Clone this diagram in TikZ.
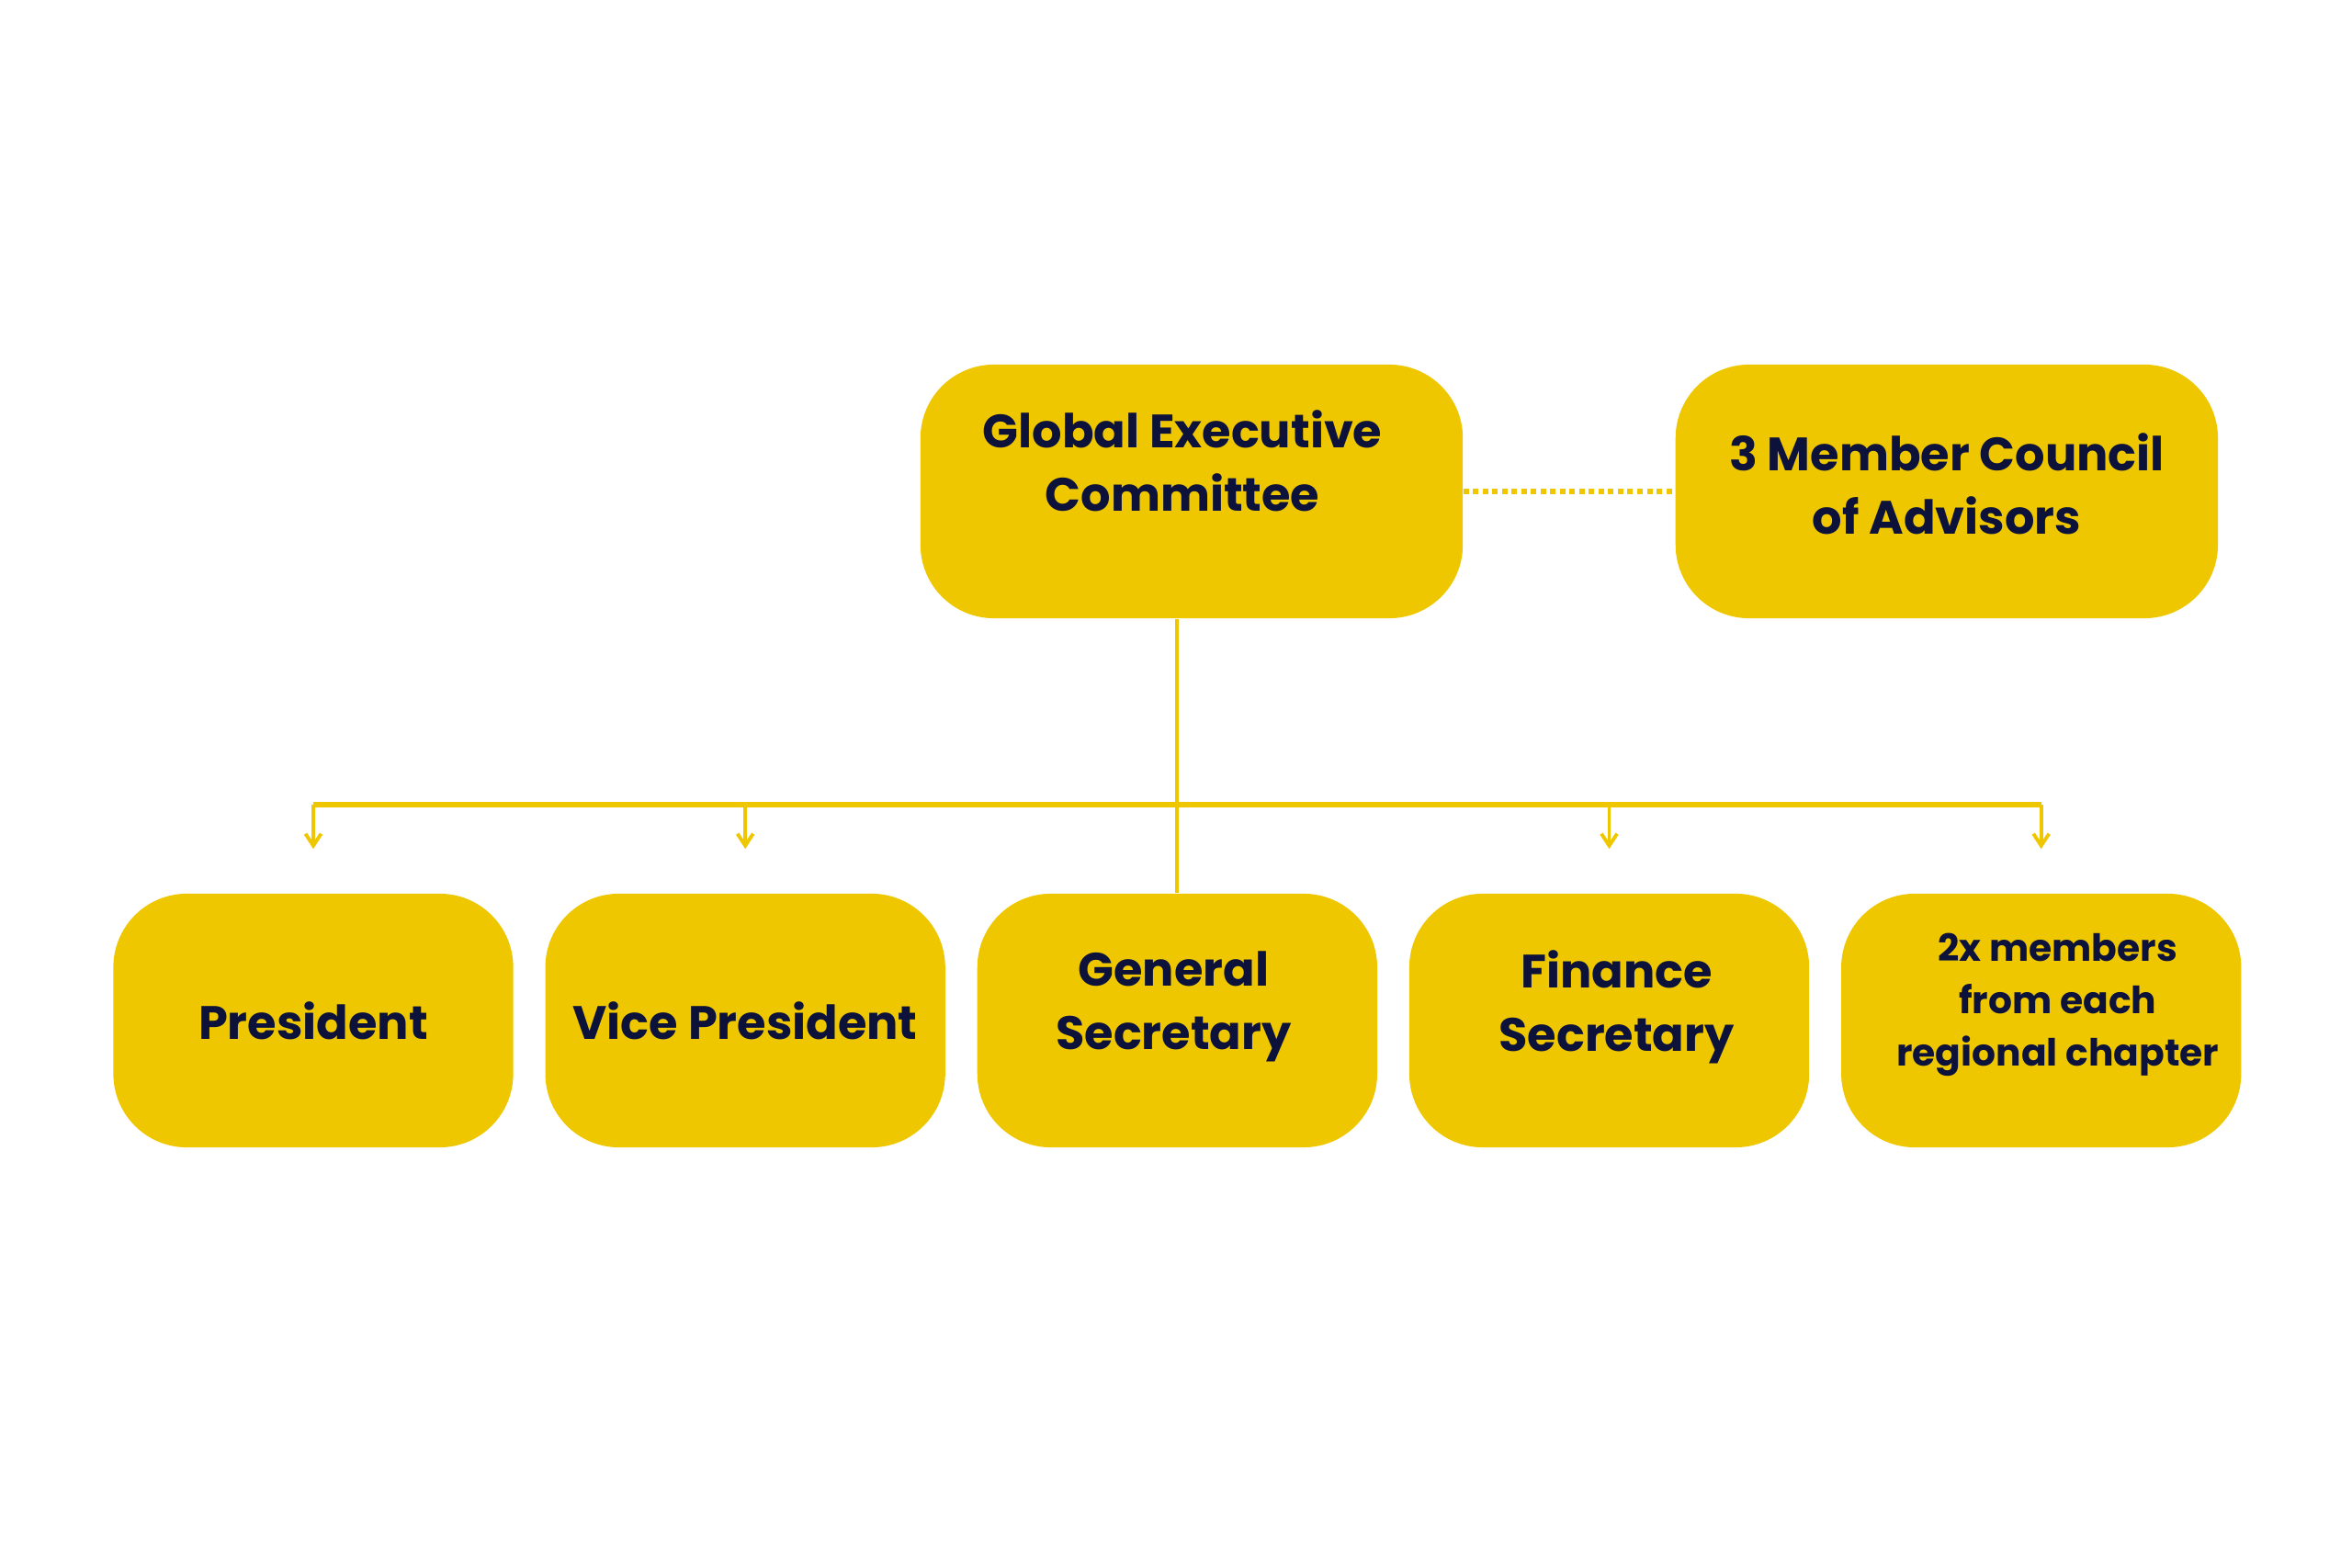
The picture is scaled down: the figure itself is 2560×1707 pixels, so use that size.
\documentclass[tikz,border=0pt]{standalone}
\usepackage{fontspec}
\setmainfont{Poppins}
\usepackage{xcolor}
\usetikzlibrary{positioning,calc,arrows.meta}

\definecolor{boxyellow}{HTML}{EFC700}
\definecolor{inkblue}{HTML}{0C1239}

\tikzset{
	rolebox/.style={fill=boxyellow, rounded corners=0.8cm, minimum width=4.35cm, minimum height=2.76cm, inner sep=0pt},
	headbox/.style={rolebox, minimum width=5.9cm},
	roletext/.style={text=inkblue, font=\bfseries\fontsize{14.5}{19.6}\selectfont, align=center, inner sep=0pt},
	smalltext/.style={roletext, font=\bfseries\fontsize{11.6}{16.3}\selectfont},
	branch/.style={draw=boxyellow, line width=1.1pt},
	drop/.style={branch, -{Straight Barb[length=0.13cm,width=0.17cm]}},
}

\begin{document}
\begin{tikzpicture}[x=0.01cm, y=-0.01cm]
	\useasboundingbox[fill=white] (0,0) rectangle (2560,1707);
	%
	\node[headbox] (gec) at (1297,535) {};
	\node[headbox, right=2.3cm of gec] (council) {};
	\node[roletext] (gecT) at ($(gec)+(-10,-33)$) {Global Executive\\Committee};
	\node[roletext] (councilT) at ($(council)+(0,-8)$) {3 Member Council\\of Advisors};
	%
	\node[rolebox] (pres) at (341,1111) {};
	\node[rolebox, right=0.335cm of pres] (vp) {};
	\node[rolebox, right=0.335cm of vp] (gs) {};
	\node[rolebox, right=0.335cm of gs] (fs) {};
	\node[rolebox, right=0.335cm of fs] (rep) {};
	\node[roletext] (presT) at (pres) {President};
	\node[roletext] (vpT) at (vp) {Vice President};
	\node[roletext] (gsT) at ($(gs)+(-4,-15)$) {General\\Secretary};
	\node[roletext] (fsT) at ($(fs)+(8,-15)$) {Finance\\Secretary};
	\node[smalltext] (repT) at ($(rep)+(18,-17)$) {2x members\\from each\\regional chapter};
	%
	\coordinate (bar) at ($(gs.north)+(0,-96)$);
	\draw[branch] (gs.north) -- (gs.north |- gec.south);
	\draw[branch, line width=1.6pt] (pres.north |- bar) -- (rep.north |- bar);
	\foreach \n in {pres,vp,fs,rep}
		\draw[drop] (\n.north |- bar) -- ($(\n.north)+(0,-48)$);
	\draw[draw=boxyellow, line width=1.8pt, dash pattern=on 0.06cm off 0.045cm] (gec.east) -- (council.west);
\end{tikzpicture}
\end{document}
